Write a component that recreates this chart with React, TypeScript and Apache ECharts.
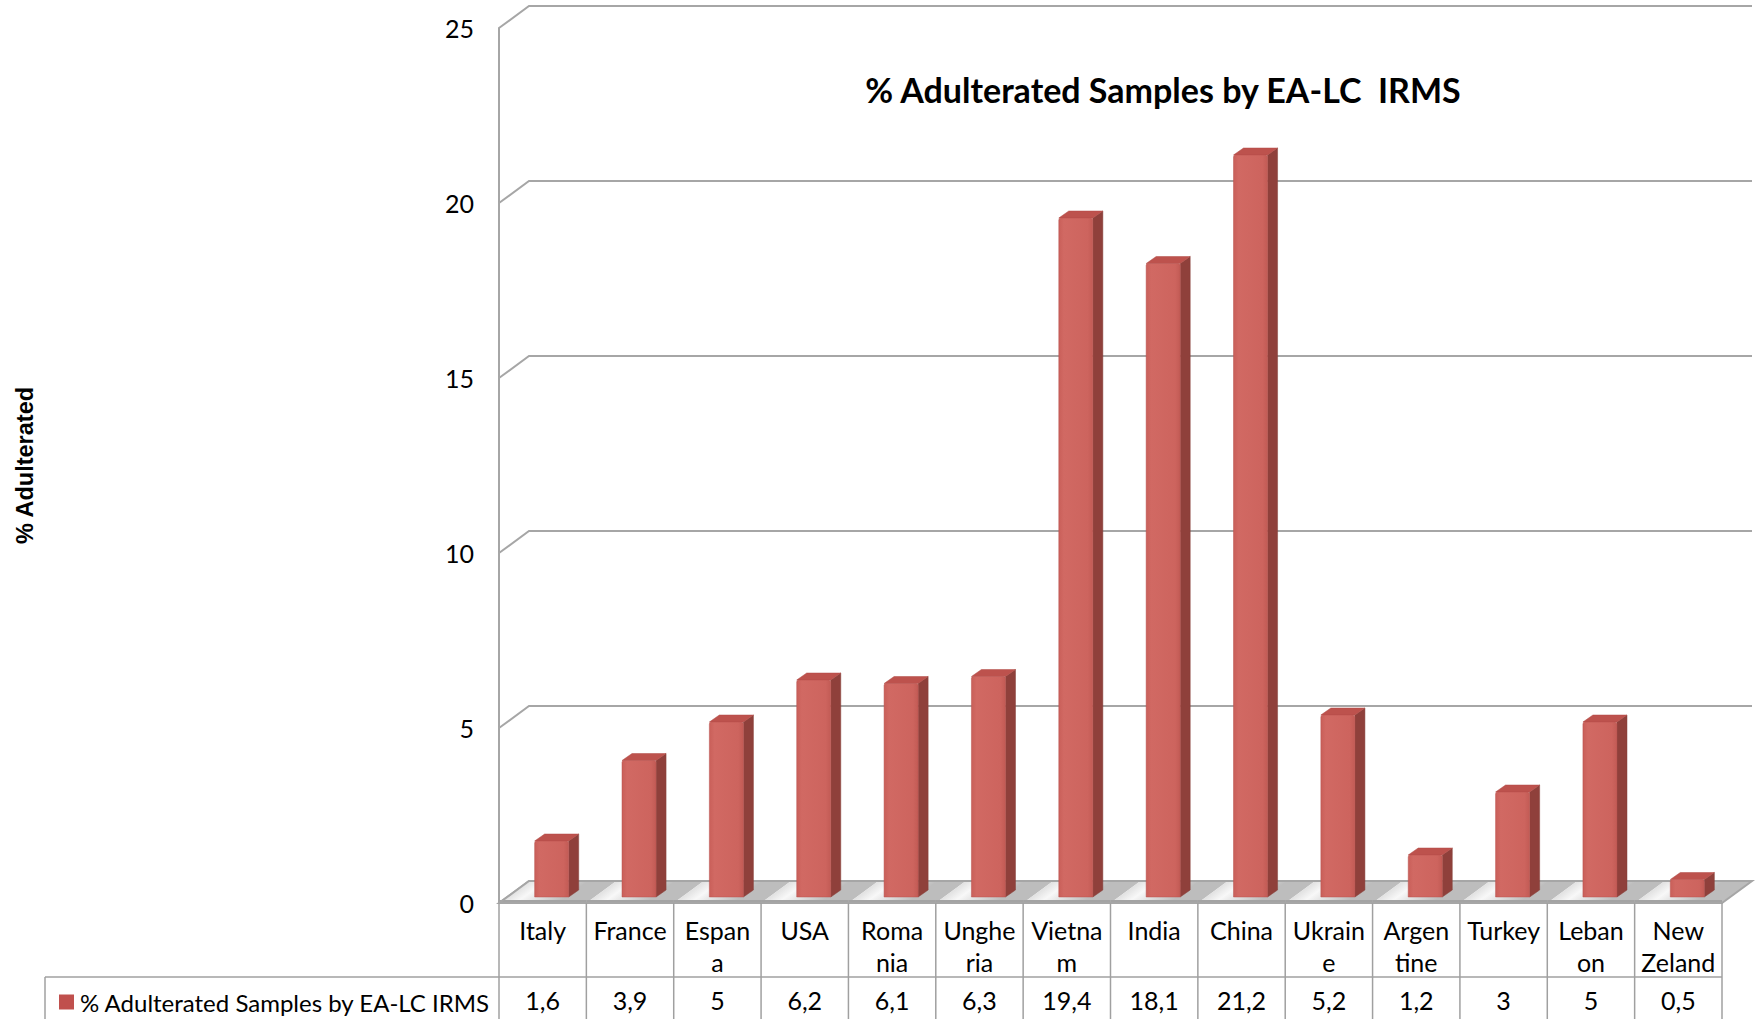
import React, { useEffect, useRef } from "react";
import * as echarts from "echarts";

const categoryLabels = [
  "Italy", "France", "Espan\na", "USA", "Roma\nnia", "Unghe\nria", "Vietna\nm",
  "India", "China", "Ukrain\ne", "Argen\ntine", "Turkey", "Leban\non", "New\nZeland",
];
const values = [1.6, 3.9, 5, 6.2, 6.1, 6.3, 19.4, 18.1, 21.2, 5.2, 1.2, 3, 5, 0.5];
const yTicks = [0, 5, 10, 15, 20, 25];
const seriesName = "% Adulterated Samples by EA-LC IRMS";
const titleText = "% Adulterated Samples by EA-LC  IRMS";
const yAxisName = "% Adulterated";

const DX = 30, DY = 22; // wall depth
const FX = 9, FY = 6; // bar front offset
const SX = 10, SY = 7; // bar depth
const GRID_COLOR = "#A6A6A6";
const FONT = "Lato, 'Open Sans', sans-serif";

export default function App() {
  const ref = useRef<HTMLDivElement>(null);
  useEffect(() => {
    if (!ref.current) return;
    const chart = echarts.init(ref.current, undefined, { renderer: "svg" });
    const catData = categoryLabels.map((_, i) => [i, 0]);
    const option: any = {
      animation: false,
      backgroundColor: "#ffffff",
      grid: { left: 499, top: 28, width: 1223, height: 875 },
      legend: {
        data: [seriesName],
        left: 54,
        top: 985,
        icon: "rect",
        itemWidth: 15,
        itemHeight: 15,
        itemGap: 6,
        textStyle: { fontFamily: FONT, fontSize: 24, color: "#000", padding: [0, 0, 0, 1] },
      },
      xAxis: [
        {
          type: "category",
          data: categoryLabels,
          axisLine: { show: false },
          axisTick: { show: false },
          axisLabel: {
            interval: 0,
            margin: 11,
            fontFamily: FONT,
            fontSize: 25,
            lineHeight: 32,
            color: "#000",
            verticalAlign: "top",
          },
        },
        {
          type: "category",
          data: categoryLabels,
          position: "bottom",
          offset: 70,
          axisLine: { show: false },
          axisTick: { show: false },
          axisLabel: {
            interval: 0,
            margin: 11,
            fontFamily: FONT,
            fontSize: 25,
            lineHeight: 32,
            color: "#000",
            verticalAlign: "top",
            formatter: (_: string, i: number) => String(values[i]).replace(".", ","),
          },
        },
      ],
      yAxis: {
        type: "value",
        min: 0,
        max: 25,
        interval: 5,
        name: yAxisName,
        nameLocation: "middle",
        nameRotate: 90,
        nameGap: 462,
        nameTextStyle: {
          fontFamily: "'Liberation Sans', Arial, sans-serif",
          fontWeight: "bold",
          fontSize: 23.5,
          color: "#000",
        },
        axisLine: { show: true, lineStyle: { color: GRID_COLOR, width: 2 } },
        axisTick: { show: false },
        splitLine: { show: false },
        axisLabel: {
          margin: 25,
          fontFamily: FONT,
          fontSize: 25,
          color: "#000",
          formatter: (v: number) => (yTicks.includes(v) ? String(v) : ""),
        },
      },
      graphic: [
        {
          type: "text",
          x: 1163,
          y: 89,
          z: 10,
          style: {
            text: titleText,
            fontFamily: FONT,
            fontWeight: "bold",
            fontSize: 34,
            fill: "#000",
            textAlign: "center",
            textVerticalAlign: "middle",
          },
        },
      ],
      series: [
        {
          name: "walls",
          type: "custom",
          z: 1,
          silent: true,
          data: yTicks.map((v) => [0, v]),
          renderItem: (params: any, api: any) => {
            const cs = params.coordSys;
            const y = api.coord([0, api.value(1)])[1];
            return {
              type: "polyline",
              shape: {
                points: [
                  [cs.x, y],
                  [cs.x + DX, y - DY],
                  [cs.x + cs.width + DX, y - DY],
                ],
              },
              style: { stroke: GRID_COLOR, lineWidth: 2, fill: null },
            };
          },
        },
        {
          name: "floor",
          type: "custom",
          z: 2,
          silent: true,
          data: catData,
          renderItem: (params: any, api: any) => {
            const band = api.size([1, 0])[0];
            const [cx, y0] = api.coord([api.value(0), 0]);
            const xl = cx - band / 2;
            const xr = cx + band / 2;
            const c = [cx - 12, y0 - DY / 2];
            const d = [0.59, 0.81];
            const L = 50;
            const grad = new echarts.graphic.LinearGradient(
              c[0] - (d[0] * L) / 2,
              c[1] - (d[1] * L) / 2,
              c[0] + (d[0] * L) / 2,
              c[1] + (d[1] * L) / 2,
              [
                { offset: 0, color: "#BDBDBD" },
                { offset: 0.5, color: "#F8F8F8" },
                { offset: 1, color: "#BDBDBD" },
              ],
              true
            );
            return {
              type: "group",
              children: [
                {
                  type: "polygon",
                  shape: {
                    points: [
                      [xl, y0],
                      [xr, y0],
                      [xr + DX, y0 - DY],
                      [xl + DX, y0 - DY],
                    ],
                  },
                  style: { fill: grad, stroke: null },
                },
                {
                  type: "line",
                  shape: { x1: xl, y1: y0 - 1.5, x2: xr, y2: y0 - 1.5 },
                  style: { stroke: "#A3A3A3", lineWidth: 3 },
                },
              ],
            };
          },
        },
        {
          name: "floorEdge",
          type: "custom",
          z: 3,
          silent: true,
          data: [[0, 0]],
          renderItem: (params: any, api: any) => {
            const cs = params.coordSys;
            const y0 = api.coord([0, 0])[1];
            const xR = cs.x + cs.width;
            return {
              type: "polyline",
              shape: {
                points: [
                  [cs.x + DX, y0 - DY],
                  [xR + DX, y0 - DY],
                  [xR, y0],
                  [cs.x, y0],
                  [cs.x + DX, y0 - DY],
                ],
              },
              style: { stroke: GRID_COLOR, lineWidth: 2, fill: null },
            };
          },
        },
        {
          name: "table",
          type: "custom",
          z: 3,
          silent: true,
          data: catData,
          renderItem: (params: any, api: any) => {
            const cs = params.coordSys;
            const band = api.size([1, 0])[0];
            const i = api.value(0);
            const [cx, y0] = api.coord([i, 0]);
            const H = api.getHeight();
            const st = { stroke: "#A0A0A0", lineWidth: 1.5 };
            const children: any[] = [
              { type: "line", shape: { x1: cx - band / 2, y1: y0, x2: cx - band / 2, y2: H }, style: st },
            ];
            if (i === categoryLabels.length - 1) {
              children.push({ type: "line", shape: { x1: cx + band / 2, y1: y0, x2: cx + band / 2, y2: H }, style: st });
            }
            if (i === 0) {
              children.push({ type: "line", shape: { x1: 45, y1: 977, x2: cs.x + cs.width, y2: 977 }, style: st });
              children.push({ type: "line", shape: { x1: 45, y1: 977, x2: 45, y2: H }, style: st });
            }
            return { type: "group", children };
          },
        },
        {
          name: seriesName,
          type: "custom",
          z: 5,
          itemStyle: { color: "#C0504D" },
          data: values.map((v, i) => [i, v]),
          renderItem: (params: any, api: any) => {
            const band = api.size([1, 0])[0];
            const W = band * 0.39;
            const i = api.value(0);
            const [cx, yt0] = api.coord([i, api.value(1)]);
            const yb0 = api.coord([i, 0])[1];
            const x = cx + FX - W / 2;
            const yt = yt0 - FY;
            const yb = yb0 - FY;
            return {
              type: "group",
              children: [
                {
                  type: "polygon",
                  shape: {
                    points: [
                      [x + W, yt],
                      [x + W + SX, yt - SY],
                      [x + W + SX, yb - SY],
                      [x + W, yb],
                    ],
                  },
                  style: { fill: "#8F403B", stroke: "#86403a", lineWidth: 0.5 },
                },
                {
                  type: "polygon",
                  shape: {
                    points: [
                      [x, yt],
                      [x + SX, yt - SY],
                      [x + W + SX, yt - SY],
                      [x + W, yt],
                    ],
                  },
                  style: { fill: "#BD524D", stroke: "#B04A45", lineWidth: 0.5 },
                },
                {
                  type: "rect",
                  shape: { x, y: yt, width: W, height: yb - yt, r: [2, 2, 0, 0] },
                  style: {
                    fill: new echarts.graphic.LinearGradient(0, 0, 1, 0, [
                      { offset: 0, color: "#C95F59" },
                      { offset: 0.15, color: "#D16963" },
                      { offset: 0.85, color: "#CD645E" },
                      { offset: 1, color: "#C25B55" },
                    ]),
                    stroke: "#B9534E",
                    lineWidth: 0.5,
                  },
                },
              ],
            };
          },
        },
      ],
    };
    chart.setOption(option);
    return () => chart.dispose();
  }, []);
  return (
    <div
      ref={ref}
      style={{ position: "absolute", left: 0, top: 0, width: 1758, height: 1019 }}
    />
  );
}
